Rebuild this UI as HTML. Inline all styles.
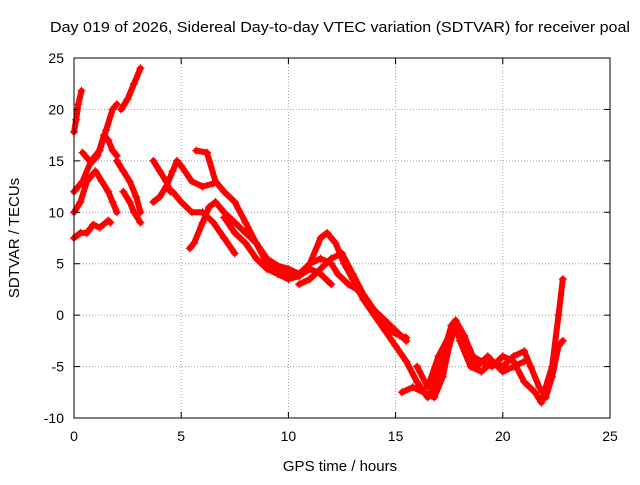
<!DOCTYPE html>
<html><head><meta charset="utf-8"><style>
body{margin:0;background:#fff;}
svg text{font-family:"Liberation Sans",sans-serif;font-size:14px;fill:#000;}
</style></head><body>
<svg id="chart" width="640" height="480">
<text x="50" y="32" textLength="580" lengthAdjust="spacingAndGlyphs" style="font-size:15px">Day 019 of 2026, Sidereal Day-to-day VTEC variation (SDTVAR) for receiver poal</text>
<text x="340" y="471" text-anchor="middle" style="font-size:15px">GPS time / hours</text>
<text transform="translate(19,238) rotate(-90)" text-anchor="middle" style="font-size:15px">SDTVAR / TECUs</text>
<g id="grid"></g><g id="series"></g><g id="axes"></g>
</svg>
<script>
const xTicks=[0,5,10,15,20,25];
const yTicks=[-10,-5,0,5,10,15,20,25];
const track1=[[0,7.5],[0.3,8],[0.6,8],[0.9,8.8],[1.2,8.5],[1.6,9.2],[1.7,9]];
const track2=[[0,10],[0.3,11],[0.6,13],[1,14],[1.3,13],[1.6,12],[1.8,11],[2,10]];
const track3=[[0,12],[0.4,13],[0.8,15],[1.2,16],[1.5,18],[1.8,20],[2,20.5]];
const track4=[[0.4,15.8],[0.8,14.8],[1.1,15.5],[1.4,17.5],[1.6,17],[1.8,16],[2,15.5]];
const track5=[[0,17.8],[0.1,19],[0.2,20.5],[0.35,21.8]];
const track6=[[2.2,20],[2.5,21],[2.8,22.5],[3.1,24]];
const track7=[[2.3,12],[2.6,11],[2.8,10],[3.1,9]];
const track8=[[2,15],[2.3,14],[2.6,13],[2.9,11.5],[3.1,10]];
const track9=[[3.7,15],[4,14],[4.3,13],[4.5,12]];
const track10=[[3.7,11],[4,11.5],[4.3,12.5],[4.6,14],[4.8,15],[5,14.5],[5.5,13],[6,12.5],[6.5,12.8]];
const track11=[[4.6,12],[5,11],[5.5,10],[6,10],[6.5,9],[7,7.5],[7.5,6]];
const track12=[[5.4,6.5],[5.6,7],[6,9],[6.3,10.5],[6.6,11],[7,10],[7.5,9],[8,8],[8.5,7],[9,5],[9.5,4.5],[10,4],[10.5,3.8],[11,4.5],[11.5,4],[12,3]];
const track13=[[5.7,16],[6.2,15.8],[6.6,13],[7,12],[7.5,11],[8,9],[8.5,7],[9,5.5],[9.5,4.8],[10,4.5],[10.5,4],[11,5],[11.5,7.5],[11.8,8],[12.2,7],[12.6,5],[13,3.5],[13.5,1.5],[14,0],[14.5,-1.5],[15,-3],[15.5,-4.5],[16,-6.5],[16.5,-8],[16.8,-7],[17.2,-4],[17.6,-1],[17.8,-0.5],[18.2,-2],[18.6,-4],[19,-4.5],[19.5,-5],[20,-4],[20.5,-4.5],[21,-6.5],[21.5,-7.5],[21.8,-8.5],[22,-7],[22.3,-5],[22.6,0],[22.8,3.5]];
const track14=[[7,9.5],[7.5,8],[8,7],[8.5,5.5],[9,4.5],[9.5,4],[10,3.5],[10.5,3.8],[11,5],[11.5,5.5],[12,5],[12.3,4],[12.8,3],[13.2,2.5],[13.8,1],[14.2,0],[14.7,-1.5],[15.2,-2],[15.5,-2.2]];
const track15=[[15.3,-7.5],[15.8,-7],[16.3,-7.5],[16.8,-8],[17.2,-6],[17.5,-3],[17.8,-1],[18,-2.5],[18.5,-5],[19,-5.5],[19.5,-4.5],[20,-5],[20.5,-4],[21,-3.5],[21.3,-5],[21.7,-7],[22,-8],[22.3,-6],[22.6,-3],[22.8,-2.5]];
const track16=[[10.5,3],[11,3.5],[11.5,4.5],[12,5.5],[12.5,6],[13,4],[13.5,2],[14,0.5],[14.5,-0.5],[15,-1.5],[15.5,-2.5]];
const track17=[[16,-5],[16.5,-7],[17,-4],[17.5,-2],[18,-1.5],[18.3,-3],[18.8,-5],[19.3,-4],[20,-5.5],[20.5,-5],[21,-4.5]];
const tracks=[track1,track2,track3,track4,track5,track6,track7,track8,track9,track10,track11,track12,track13,track14,track15,track16,track17];
const X0=74,X1=610,Y0=418,Y1=58;
const sx=v=>X0+(v-0)/25*(X1-X0);
const sy=v=>Y0-(v+10)/35*(Y0-Y1);
const NS="http://www.w3.org/2000/svg";
const mk=(t,a,p)=>{const e=document.createElementNS(NS,t);for(const k in a)e.setAttribute(k,a[k]);p.appendChild(e);return e;};
const grid=document.getElementById('grid'),axes=document.getElementById('axes'),ser=document.getElementById('series');
xTicks.forEach(t=>{
 if(t>0&&t<25){const g=mk('line',{x1:sx(t),x2:sx(t),y1:Y1,y2:Y0,stroke:'#a0a0a0','stroke-dasharray':'1,2'},grid);
 
 }
 const l=mk('text',{x:sx(t),y:Y0+23,'text-anchor':'middle'},axes);l.textContent=t;
 
 
 mk('line',{x1:sx(t),x2:sx(t),y1:Y0,y2:Y0-6,stroke:'#000'},axes);
 mk('line',{x1:sx(t),x2:sx(t),y1:Y1,y2:Y1+6,stroke:'#000'},axes);
});
yTicks.forEach(t=>{
 if(t>-10&&t<25){const g=mk('line',{x1:X0,x2:X1,y1:sy(t),y2:sy(t),stroke:'#a0a0a0','stroke-dasharray':'1,2'},grid);
 
 }
 const l=mk('text',{x:X0-10,y:sy(t)+5,'text-anchor':'end'},axes);l.textContent=t;
 
 
 mk('line',{x1:X0,x2:X0+6,y1:sy(t),y2:sy(t),stroke:'#000'},axes);
 mk('line',{x1:X1,x2:X1-6,y1:sy(t),y2:sy(t),stroke:'#000'},axes);
});
const fr=mk('rect',{x:X0,y:Y1,width:X1-X0,height:Y0-Y1,fill:'none',stroke:'#000'},axes);


tracks.forEach((tr,i)=>{
 const g=mk('g',{},ser);
 
 
 mk('polyline',{points:tr.map(p=>sx(p[0])+','+sy(p[1])).join(' '),fill:'none',stroke:'#f00','stroke-width':6,'stroke-linejoin':'round','stroke-linecap':'round'},g);
 tr.forEach(p=>{const x=sx(p[0]),y=sy(p[1]);
  mk('path',{d:`M${x-4},${y}H${x+4}M${x},${y-4}V${y+4}`,stroke:'#f00','stroke-width':1.2},g);});
});
</script>
</body></html>
